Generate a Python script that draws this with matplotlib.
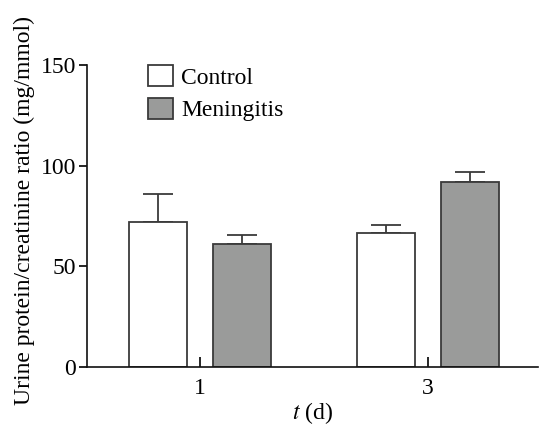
import matplotlib
matplotlib.use("Agg")
import matplotlib.pyplot as plt
import numpy as np

days = ["1", "3"]
control = [72, 66.5]
control_err = [14, 3.8]
meningitis = [61.3, 92]
meningitis_err = [4.3, 5]
yticks = [0, 50, 100, 150]

plt.rcParams['font.family'] = ['Liberation Serif', 'DejaVu Serif']
plt.rcParams['mathtext.fontset'] = 'stix'

fig = plt.figure(figsize=(5.39, 4.25), dpi=100)
ax = fig.add_axes([87/539, (425-367)/425, (538-87)/539, (367-65)/425])

x = np.arange(len(days))
w = 0.254
off = 0.184
edge = '#3a3a3a'
gray = '#9a9b9a'

ax.bar(x - off, control, w, color='white', edgecolor=edge, linewidth=1.3, label='Control', zorder=2)
ax.bar(x + off, meningitis, w, color=gray, edgecolor=edge, linewidth=1.3, label='Meningitis', zorder=2)
ax.errorbar(x - off, control, yerr=[np.zeros(len(x)), control_err], fmt='none',
            ecolor=edge, elinewidth=1.3, capsize=11, capthick=1.3, zorder=1)
ax.errorbar(x + off, meningitis, yerr=[np.zeros(len(x)), meningitis_err], fmt='none',
            ecolor=edge, elinewidth=1.3, capsize=11, capthick=1.3, zorder=1)

ax.set_xlim(-0.496, 1.482)
ax.set_ylim(0, 150)
ax.set_xticks(x)
ax.set_xticklabels(days)
ax.set_yticks(yticks)
ax.spines['top'].set_visible(False)
ax.spines['right'].set_visible(False)
for s in ['left', 'bottom']:
    ax.spines[s].set_linewidth(1.2)
    ax.spines[s].set_color('#111111')
ax.tick_params(axis='y', direction='out', length=6, width=1.2, labelsize=17, pad=2)
ax.tick_params(axis='x', direction='in', length=7, width=1.2, labelsize=17, pad=8)

ax.set_ylabel('Urine protein/creatinine ratio (mg/mmol)', fontsize=17)
ax.yaxis.set_label_coords(-0.115, 0.518)
ax.set_xlabel(r'$t$ (d)', fontsize=17, labelpad=1)

leg = ax.legend(loc='upper left', bbox_to_anchor=(0.135, 1.0), frameon=False, fontsize=17,
                handlelength=1.05, handleheight=1.0, handletextpad=0.35, labelspacing=0.38,
                borderaxespad=0, borderpad=0)

fig.savefig('out.png', dpi=100)
